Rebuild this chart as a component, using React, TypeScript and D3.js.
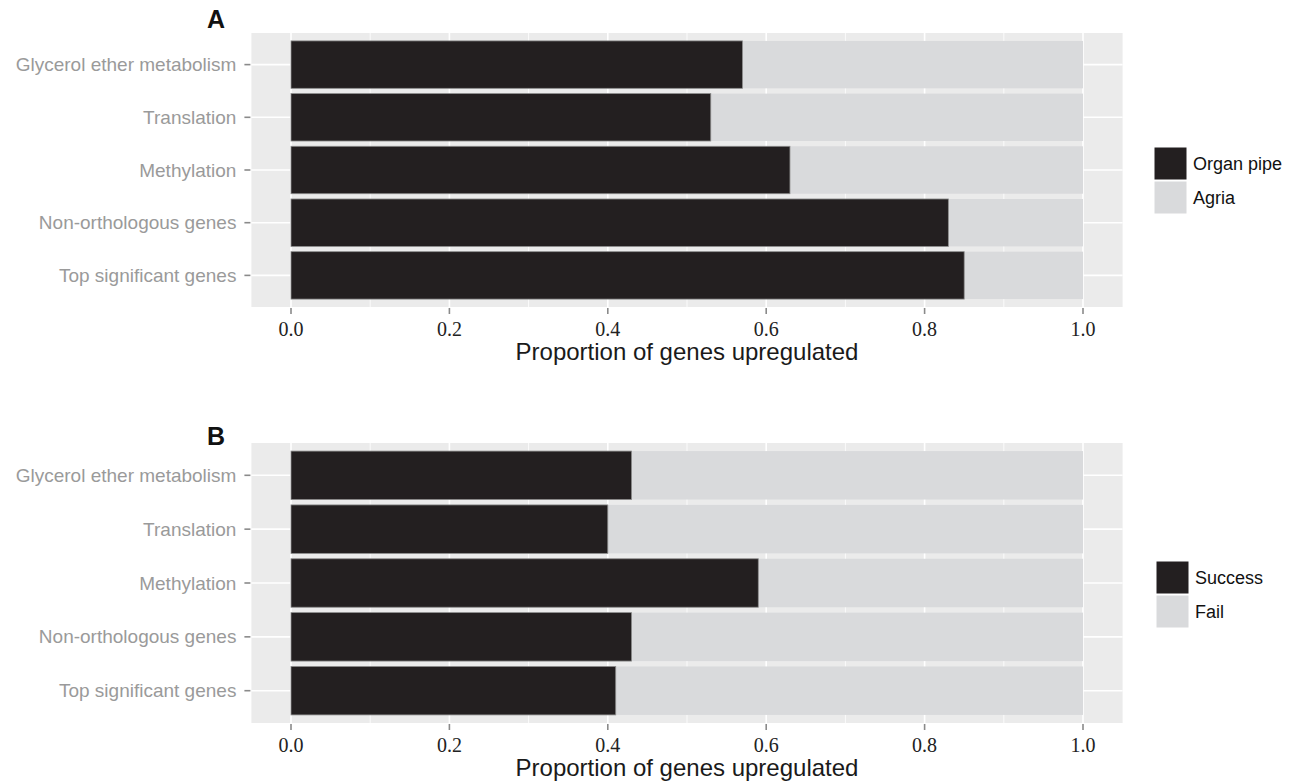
import * as d3 from "d3";

// categories, top to bottom
const categories = [
  "Glycerol ether metabolism",
  "Translation",
  "Methylation",
  "Non-orthologous genes",
  "Top significant genes",
];

// panel A: proportion Organ pipe (rest = Agria)
const organPipe = [0.57, 0.53, 0.63, 0.83, 0.85];
// panel B: proportion Success (rest = Fail)
const success = [0.43, 0.4, 0.59, 0.43, 0.41];

const xTicks = [0, 0.2, 0.4, 0.6, 0.8, 1.0];
const xMinor = [0.1, 0.3, 0.5, 0.7, 0.9];

const DARK = "#231f20";
const LIGHT = "#d9dadc";
const PANEL_BG = "#ebebeb";
const SANS = "'Liberation Sans', Arial, Helvetica, sans-serif";
const SERIF = "'Liberation Serif', 'Times New Roman', serif";

const x = d3.scaleLinear().domain([0, 1]).range([291, 1083]);

interface PanelProps {
  letter: string;
  values: number[];
  keys: [string, string];
  top: number;
  bottom: number;
  letterY: number;
  legendX: number;
  legendY: number;
}

function Panel({ letter, values, keys, top, bottom, letterY, legendX, legendY }: PanelProps) {
  const y = d3
    .scaleBand<string>()
    .domain(categories)
    .range([top, bottom])
    .paddingInner(0.1)
    .paddingOuter(0.15);
  const left = x(-0.05);
  const right = x(1.05);
  const keySize = 33;

  return (
    <g>
      <text x={207} y={letterY} fontFamily={SANS} fontWeight="bold" fontSize={25} fill="#111">
        {letter}
      </text>
      <rect x={left} y={top} width={right - left} height={bottom - top} fill={PANEL_BG} />
      {xMinor.map((t) => (
        <line key={"mn" + t} x1={x(t)} x2={x(t)} y1={top} y2={bottom} stroke="#fff" strokeWidth={0.8} />
      ))}
      {xTicks.map((t) => (
        <line key={"mj" + t} x1={x(t)} x2={x(t)} y1={top} y2={bottom} stroke="#fff" strokeWidth={1.6} />
      ))}
      {categories.map((c) => (
        <line
          key={"hg" + c}
          x1={left}
          x2={right}
          y1={y(c)! + y.bandwidth() / 2}
          y2={y(c)! + y.bandwidth() / 2}
          stroke="#fff"
          strokeWidth={1.6}
        />
      ))}
      {categories.map((c, i) => (
        <g key={"bar" + c}>
          <rect
            x={x(values[i])}
            y={y(c)!}
            width={x(1) - x(values[i])}
            height={y.bandwidth()}
            fill={LIGHT}
          />
          <rect
            x={x(0)}
            y={y(c)!}
            width={x(values[i]) - x(0)}
            height={y.bandwidth()}
            fill={DARK}
            stroke="#8c8c8c"
            strokeWidth={0.8}
          />
        </g>
      ))}
      {/* y axis */}
      {categories.map((c) => (
        <g key={"yl" + c}>
          <line
            x1={left - 7}
            x2={left - 1}
            y1={y(c)! + y.bandwidth() / 2}
            y2={y(c)! + y.bandwidth() / 2}
            stroke="#8a8a8a"
            strokeWidth={1.6}
          />
          <text
            x={left - 15}
            y={y(c)! + y.bandwidth() / 2}
            dy="0.35em"
            textAnchor="end"
            fontFamily={SANS}
            fontSize={19}
            fill="#9a9a9a"
          >
            {c}
          </text>
        </g>
      ))}
      {/* x axis */}
      {xTicks.map((t) => (
        <g key={"xl" + t}>
          <line x1={x(t)} x2={x(t)} y1={bottom + 1} y2={bottom + 7} stroke="#8a8a8a" strokeWidth={1.6} />
          <text x={x(t)} y={bottom + 29} textAnchor="middle" fontFamily={SERIF} fontSize={20} fill="#222">
            {d3.format(".1f")(t)}
          </text>
        </g>
      ))}
      <text
        x={(x(0) + x(1)) / 2}
        y={bottom + 53}
        textAnchor="middle"
        fontFamily={SANS}
        fontSize={24}
        fill="#1a1a1a"
      >
        Proportion of genes upregulated
      </text>
      {/* legend */}
      {keys.map((k, i) => (
        <g key={"lg" + k}>
          <rect
            x={legendX}
            y={legendY + i * (keySize + 1)}
            width={keySize}
            height={keySize}
            fill={i === 0 ? DARK : LIGHT}
            stroke="#fff"
            strokeWidth={1}
          />
          <text
            x={legendX + keySize + 6}
            y={legendY + i * (keySize + 1) + keySize / 2}
            dy="0.35em"
            fontFamily={SANS}
            fontSize={18}
            fill="#111"
          >
            {k}
          </text>
        </g>
      ))}
    </g>
  );
}

export default function App() {
  return (
    <svg
      width={1297}
      height={783}
      style={{ position: "absolute", left: 0, top: 0, background: "#fff" }}
    >
      <Panel
        letter="A"
        values={organPipe}
        keys={["Organ pipe", "Agria"]}
        top={33}
        bottom={307}
        letterY={28}
        legendX={1154}
        legendY={147}
      />
      <Panel
        letter="B"
        values={success}
        keys={["Success", "Fail"]}
        top={443}
        bottom={723}
        letterY={445}
        legendX={1156}
        legendY={561}
      />
    </svg>
  );
}
